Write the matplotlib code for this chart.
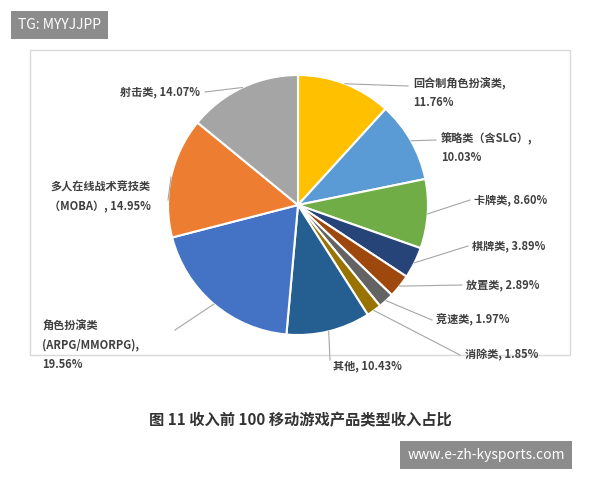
import matplotlib.pyplot as plt
import numpy as np
from matplotlib.patches import Rectangle

plt.rcParams['font.family'] = ['Noto Sans CJK SC', 'DejaVu Sans']

labels = ["回合制角色扮演类,\n11.76%", "策略类（含SLG）,\n10.03%", "卡牌类, 8.60%", "棋牌类, 3.89%",
          "放置类, 2.89%", "竞速类, 1.97%", "消除类, 1.85%", "其他, 10.43%",
          "角色扮演类\n(ARPG/MMORPG),\n19.56%", "多人在线战术竞技类\n（MOBA）, 14.95%", "射击类, 14.07%"]
shares = [11.76, 10.03, 8.60, 3.89, 2.89, 1.97, 1.85, 10.43, 19.56, 14.95, 14.07]
colors = ["#FFC000", "#5B9BD5", "#70AD47", "#264478", "#9E480E", "#636363",
          "#997300", "#255E91", "#4472C4", "#ED7D31", "#A5A5A5"]

# label anchor points (pixels, top-left origin), alignment, leader line end
label_pos = [(413, 93, "left", 408, 86), (441, 148, "left", 436, 140),
             (474, 200, "left", 470, 200), (472, 246, "left", 468, 246),
             (466, 285, "left", 462, 285), (436, 320, "left", 432, 320),
             (465, 355, "left", 460, 355), (333, 366, "left", 330, 360),
             (42, 345, "left", 175, 330), (100, 197, "center", 168, 200),
             (200, 92, "right", 205, 92)]

fig = plt.figure(figsize=(6, 4.8), dpi=100)
ax = fig.add_axes([0, 0, 1, 1])

ax.add_patch(Rectangle((30, 480 - 355), 540, 305, fill=False, ec="#d9d9d9", lw=1))

cx, cy, r = 298, 480 - 205, 130
wedges, _ = ax.pie(shares, colors=colors, startangle=90, counterclock=False,
                   center=(cx, cy), radius=r, wedgeprops=dict(edgecolor="white", linewidth=1.5))
ax.set_xlim(0, 600)
ax.set_ylim(0, 480)
ax.axis("off")

for w, lab, (px, py, ha, ex, ey) in zip(wedges, labels, label_pos):
    ang = np.deg2rad((w.theta1 + w.theta2) / 2)
    x0, y0 = cx + r * np.cos(ang), cy + r * np.sin(ang)
    ax.text(px, 480 - py, lab, ha=ha, va="center", fontsize=8, fontweight="bold",
            color="#404040", linespacing=1.6)
    ax.plot([x0, ex], [y0, 480 - ey], color="#a6a6a6", lw=0.8)

ax.text(300, 480 - 420, "图 11 收入前 100 移动游戏产品类型收入占比", ha="center", va="center",
        fontsize=11, fontweight="bold", color="#333333")

ax.text(18, 480 - 25, "TG: MYYJJPP", ha="left", va="center", fontsize=10, color="white",
        bbox=dict(boxstyle="square,pad=0.5", fc="#8c8c8c", ec="none"))
ax.text(486, 480 - 455, "www.e-zh-kysports.com", ha="center", va="center", fontsize=10,
        color="white", bbox=dict(boxstyle="square,pad=0.5", fc="#8c8c8c", ec="none"))

fig.savefig("out.png")
